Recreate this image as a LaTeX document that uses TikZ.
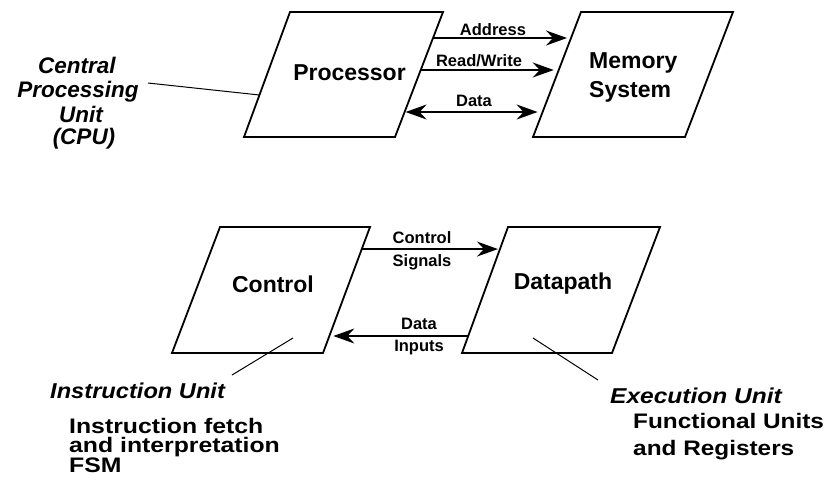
\documentclass[tikz,border=0pt]{standalone}
\usepackage{fontspec}
\setmainfont{Liberation Sans}
\usetikzlibrary{arrows.meta,calc}

\tikzset{
  block/.style={draw=black, line width=1.8pt, line join=miter},
  sig/.style={line width=1.8pt, -{Stealth[length=21pt,width=15pt,inset=7pt]}},
  sigboth/.style={line width=1.8pt,
    {Stealth[length=21pt,width=15pt,inset=7pt]}-{Stealth[length=21pt,width=15pt,inset=7pt]}},
  pointer/.style={line width=1pt},
  bigtext/.style={font=\fontsize{23}{27}\selectfont\bfseries, inner sep=0pt, anchor=base},
  sigtext/.style={font=\fontsize{16.5}{20}\selectfont\bfseries, inner sep=0pt, anchor=base},
  cputext/.style={font=\fontsize{22.5}{27}\selectfont\bfseries\itshape, inner sep=0pt, anchor=base},
  unittext/.style={font=\fontsize{21.5}{24}\selectfont\bfseries\itshape, inner sep=0pt, anchor=base west},
  desctext/.style={font=\fontsize{21}{24}\selectfont\bfseries, inner sep=0pt,
    text height=15.5pt, text depth=3.5pt, anchor=base west},
}

\begin{document}
\begin{tikzpicture}[x=1pt, y=-1pt]
\useasboundingbox (0,0) rectangle (829,483);

% ---- Processor / Memory System ----
\coordinate (pTL) at (290,12);  \coordinate (pTR) at (443,12);
\coordinate (pBR) at (395,137); \coordinate (pBL) at (244,137);
\coordinate (mTL) at (581,12);  \coordinate (mTR) at (733,12);
\coordinate (mBR) at (685,137); \coordinate (mBL) at (533,137);
\draw[block] (pTL) -- (pTR) -- (pBR) -- (pBL) -- cycle;
\draw[block] (mTL) -- (mTR) -- (mBR) -- (mBL) -- cycle;

\node[bigtext] (proc) at (349.5,80) {Processor};
\node[bigtext, anchor=base west] (mem1) at (589,68) {Memory};
\node[bigtext, anchor=base west] (mem2) at (589,97) {System};

% bus end points on the slanted sides
\coordinate (pA) at ($(pTR)!0.208!(pBR)$);
\coordinate (mA) at ($(mTL)!0.208!(mBL)$);
\coordinate (pR) at ($(pTR)!0.464!(pBR)$);
\coordinate (mR) at ($(mTL)!0.464!(mBL)$);
\coordinate (pD) at ($(pTR)!0.8!(pBR)$);
\coordinate (mD) at ($(mTL)!0.8!(mBL)$);

\draw[sig, shorten >=4pt] (pA) -- (mA);
\draw[sig, shorten >=5pt] (pR) -- (mR);
\draw[sigboth, shorten <=1pt, shorten >=5pt] (pD) -- (mD);

\node[sigtext] (laddr) at (493,35) {Address};
\node[sigtext] (lrw) at (479,66) {Read/Write};
\node[sigtext] (ldata) at (474,106) {Data};

% CPU label
\node[cputext] (cpu1) at (77,73) {Central};
\node[cputext] (cpu2) at (78,97) {Processing};
\node[cputext] (cpu3) at (81,122) {Unit};
\node[cputext] (cpu4) at (84,144) {(CPU)};
\coordinate (cpuend) at (148,83);
\coordinate (pL) at ($(pTL)!0.664!(pBL)$);
\draw[pointer] (cpuend) -- (pL);

% ---- Control / Datapath ----
\coordinate (cTL) at (220,227); \coordinate (cTR) at (370,227);
\coordinate (cBR) at (323,353); \coordinate (cBL) at (172,353);
\coordinate (dTL) at (508,227); \coordinate (dTR) at (660,227);
\coordinate (dBR) at (612,353); \coordinate (dBL) at (462,353);
\draw[block] (cTL) -- (cTR) -- (cBR) -- (cBL) -- cycle;
\draw[block] (dTL) -- (dTR) -- (dBR) -- (dBL) -- cycle;

\node[bigtext] (ctrl) at (273,292) {Control};
\node[bigtext] (dpath) at (563,289) {Datapath};

\coordinate (cS) at ($(cTR)!0.175!(cBR)$);
\coordinate (dS) at ($(dTL)!0.175!(dBL)$);
\coordinate (cI) at ($(cTR)!0.865!(cBR)$);
\coordinate (dI) at ($(dTL)!0.865!(dBL)$);
\draw[sig, shorten >=2pt] (cS) -- (dS);
\draw[sig, shorten >=4pt] (dI) -- (cI);

\node[sigtext] (lcs1) at (422,243) {Control};
\node[sigtext] (lcs2) at (422,266) {Signals};
\node[sigtext] (ldi1) at (419,329) {Data};
\node[sigtext] (ldi2) at (419,351) {Inputs};

% unit labels and pointers
\coordinate (cptA) at (293,338); \coordinate (cptB) at (232,375);
\coordinate (dptA) at (533,338); \coordinate (dptB) at (598,380);
\draw[pointer] (cptA) -- (cptB);
\draw[pointer] (dptA) -- (dptB);

\node[unittext] (iu) at (50,398) {\scalebox{1.1}[1]{Instruction Unit}};
\node[desctext] (iu1) at (69,433) {\scalebox{1.18}[1]{Instruction fetch}};
\node[desctext] (iu2) at (69,452.5) {\scalebox{1.18}[1]{and interpretation}};
\node[desctext] (iu3) at (69,472) {\scalebox{1.18}[1]{FSM}};

\node[unittext] (eu) at (610,403) {\scalebox{1.14}[1]{Execution Unit}};
\node[desctext] (eu1) at (633,428) {\scalebox{1.16}[1]{Functional Units}};
\node[desctext] (eu2) at (633,455) {\scalebox{1.16}[1]{and Registers}};
\end{tikzpicture}
\end{document}
